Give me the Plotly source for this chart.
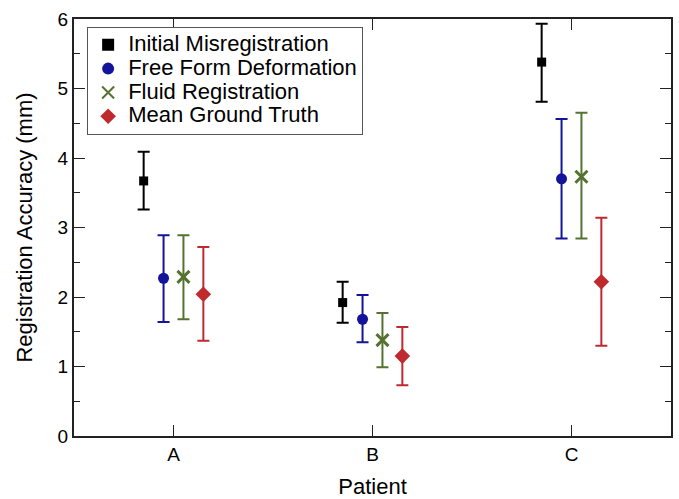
import plotly.graph_objects as go

patients = ["A", "B", "C"]
patient_pos = [1, 2, 3]

series_names = ["Initial Misregistration", "Free Form Deformation",
                "Fluid Registration", "Mean Ground Truth"]
offsets = [-0.15, -0.05, 0.05, 0.15]

init_mean = [3.67, 1.92, 5.38]
init_hi = [4.09, 2.22, 5.93]
init_lo = [3.26, 1.63, 4.81]

ffd_mean = [2.27, 1.68, 3.70]
ffd_hi = [2.89, 2.03, 4.56]
ffd_lo = [1.64, 1.35, 2.84]

fluid_mean = [2.29, 1.38, 3.73]
fluid_hi = [2.89, 1.77, 4.65]
fluid_lo = [1.68, 0.99, 2.84]

mgt_mean = [2.04, 1.15, 2.22]
mgt_hi = [2.72, 1.57, 3.14]
mgt_lo = [1.37, 0.73, 1.30]

means = [init_mean, ffd_mean, fluid_mean, mgt_mean]
his = [init_hi, ffd_hi, fluid_hi, mgt_hi]
los = [init_lo, ffd_lo, fluid_lo, mgt_lo]
colors = ["#000000", "#14149a", "#557230", "#bf2a2e"]
symbols = ["square", "circle", "x-thin", "diamond"]
sizes = [9, 11, 12, 12]

FONT = "Liberation Sans, Arial, Helvetica"

fig = go.Figure()
for i in range(4):
    xs = [p + offsets[i] for p in patient_pos]
    up = [h - m for h, m in zip(his[i], means[i])]
    dn = [m - l for m, l in zip(means[i], los[i])]
    marker = dict(color=colors[i], size=sizes[i], symbol=symbols[i])
    if symbols[i] == "x-thin":
        marker["line"] = dict(color=colors[i], width=3)
    fig.add_trace(go.Scatter(
        x=xs, y=means[i], mode="markers",
        name="<span style='font-size:22px'>" + series_names[i] + "</span>",
        marker=marker,
        error_y=dict(type="data", symmetric=False, array=up, arrayminus=dn,
                     color=colors[i], thickness=2, width=6),
    ))

axis_common = dict(showline=True, linecolor="#222222", linewidth=2, mirror="ticks",
                   ticks="inside", tickcolor="#222222", tickwidth=1, ticklen=11,
                   showgrid=False, zeroline=False, automargin=False,
                   tickfont=dict(family=FONT, size=19, color="black"))

fig.update_layout(
    width=679, height=499,
    margin=dict(l=74, r=8, t=19, b=63),
    paper_bgcolor="white", plot_bgcolor="white",
    showlegend=True,
    legend=dict(x=0.022, y=0.981, xanchor="left", yanchor="top",
                bordercolor="#555555", borderwidth=1, bgcolor="white",
                font=dict(family=FONT, size=16, color="black"),
                itemsizing="constant", tracegroupgap=0),
    xaxis=dict(range=[0.5, 3.5], tickvals=patient_pos, ticktext=patients,
               title=dict(text="Patient", font=dict(family=FONT, size=22, color="black"), standoff=15),
               **axis_common),
    yaxis=dict(range=[0, 6], tickvals=[0, 1, 2, 3, 4, 5, 6],
               minor=dict(tickvals=[0.5, 1.5, 2.5, 3.5, 4.5, 5.5], ticks="inside", ticklen=6, tickcolor="#222222"),
               title=dict(text="Registration Accuracy (mm)", font=dict(family=FONT, size=22, color="black"), standoff=19),
               **axis_common),
)

fig.write_html("out.html", config={"displayModeBar": False},
               post_script="document.body.style.margin='0';")
